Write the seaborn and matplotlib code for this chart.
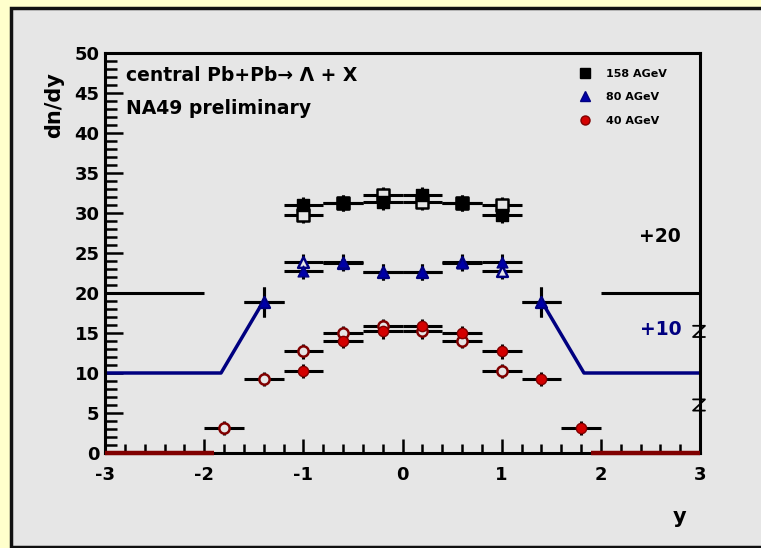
import numpy as np
import pandas as pd
import matplotlib
matplotlib.use("Agg")
import matplotlib.pyplot as plt
from matplotlib.patches import Rectangle
from matplotlib.lines import Line2D
from matplotlib.ticker import MultipleLocator
import seaborn as sns

# ---------------- data (raw dn/dy, offsets added when plotting) ----------------
x158 = [-1.0, -0.6, -0.2, 0.2, 0.6, 1.0]
y158 = [11.0, 11.3, 11.4, 12.3, 11.3, 9.8]
e158 = [1.0, 1.0, 1.0, 1.0, 1.0, 1.0]
off158 = 20

x80 = [-1.4, -1.0, -0.6, -0.2, 0.2, 0.6, 1.0, 1.4]
y80 = [8.9, 12.7, 13.9, 12.6, 12.6, 13.8, 13.9, 8.9]
e80 = [1.9, 1.0, 1.0, 1.0, 1.0, 1.0, 1.0, 1.9]
off80 = 10

x40 = [-1.0, -0.6, -0.2, 0.2, 0.6, 1.0, 1.4, 1.8]
y40 = [10.25, 14.0, 15.2, 15.9, 15.0, 12.7, 9.25, 3.1]
e40 = [0.9, 0.9, 0.9, 0.9, 0.9, 0.9, 0.9, 0.9]
off40 = 0

half_bin = 0.2

# baseline (offset-level) guide lines
base158_left_x, base158_right_x = [-3.0, -2.0], [2.0, 3.0]
base80_left_x, base80_left_y = [-3.0, -1.83, -1.42], [10.0, 10.0, 18.6]
base80_right_x, base80_right_y = [1.42, 1.83, 3.0], [18.6, 10.0, 10.0]
base40_left_x, base40_right_x = [-3.0, -1.9], [1.9, 3.0]

labels = ["158 AGeV", "80 AGeV", "40 AGeV"]
offset_labels = ["+20", "+10"]
break_marks_y = [15.2, 6.0]

# ---------------- style ----------------
sns.set_style("white")
plt.rcParams['font.family'] = ['DejaVu Sans']
plt.rcParams.update({"text.color": "black", "xtick.color": "black",
                     "ytick.color": "black", "axes.labelcolor": "black",
                     "axes.unicode_minus": False})

BLACK = "#000000"
BLUE = "#0000A8"
BLUE_DARK = "#000080"
RED = "#D40000"
RED_DARK = "#800000"
PANEL = "#E6E6E6"

W, H = 761, 548
fig = plt.figure(figsize=(W / 100, H / 100), dpi=100)
fig.patch.set_facecolor("#FFFFCC")
bg = Rectangle((11 / W, 1 / H), 1.0, (H - 8 - 1) / H, transform=fig.transFigure,
               facecolor=PANEL, edgecolor="#111111", linewidth=2.5, zorder=-10)
fig.patches.append(bg)

ax = fig.add_axes([105 / W, (H - 453) / H, 595 / W, 400 / H])
ax.set_zorder(1)
ax.set_facecolor(PANEL)
ax.set_xlim(-3, 3)
ax.set_ylim(0, 50)

def lines(xs, ys, color, lw, z=2):
    sns.lineplot(x=xs, y=ys, ax=ax, color=color, linewidth=lw, sort=False, zorder=z,
                 solid_capstyle="butt", clip_on=False)

lines(base158_left_x, [off158] * 2, BLACK, 2.2)
lines(base158_right_x, [off158] * 2, BLACK, 2.2)
lines(base80_left_x, base80_left_y, BLUE_DARK, 2.5)
lines(base80_right_x, base80_right_y, BLUE_DARK, 2.5)
lines(base40_left_x, [off40] * 2, RED_DARK, 3.2, z=6)
lines(base40_right_x, [off40] * 2, RED_DARK, 3.2, z=6)

series = [
    (x158, y158, e158, off158, "s", 80, BLACK, BLACK, BLACK),
    (x80, y80, e80, off80, "^", 60, BLUE, BLUE_DARK, BLUE_DARK),
    (x40, y40, e40, off40, "o", 55, RED, RED_DARK, RED_DARK),
]

for xs, ys, es, off, mk, s, fc, ec, oc in series:
    xs = np.array(xs)
    ys = np.array(ys) + off
    es = np.array(es)
    for xx in (xs, -xs):
        ax.errorbar(xx, ys, xerr=half_bin, yerr=es, fmt="none", ecolor="black",
                    elinewidth=2.2, capsize=0, zorder=3)
    df_open = pd.DataFrame({"x": -xs, "y": ys})
    sns.scatterplot(data=df_open, x="x", y="y", ax=ax, marker=mk, s=s, color=PANEL,
                    edgecolor=oc, linewidth=1.8, zorder=4, legend=False)
    df = pd.DataFrame({"x": xs, "y": ys})
    sns.scatterplot(data=df, x="x", y="y", ax=ax, marker=mk, s=s, color=fc,
                    edgecolor=ec, linewidth=1.0, zorder=5, legend=False)

for sp in ax.spines.values():
    sp.set_linewidth(2.2)
    sp.set_color("black")
ax.xaxis.set_major_locator(MultipleLocator(1))
ax.xaxis.set_minor_locator(MultipleLocator(0.2))
ax.yaxis.set_major_locator(MultipleLocator(5))
ax.yaxis.set_minor_locator(MultipleLocator(1))
ax.tick_params(axis="y", which="major", direction="in", length=13, width=1.8,
               labelsize=13, pad=4, left=True, right=False)
ax.tick_params(axis="y", which="minor", direction="in", length=8.5, width=1.8, left=True)
ax.tick_params(axis="x", which="major", direction="in", length=10, width=1.8,
               labelsize=13, pad=9, bottom=True, top=False)
ax.tick_params(axis="x", which="minor", direction="in", length=6.5, width=1.8, bottom=True)
for lab in ax.get_xticklabels() + ax.get_yticklabels():
    lab.set_fontweight("bold")

ax.set_xlabel("")
ax.set_ylabel("")
ax.text(-0.085, 0.87, "dn/dy", transform=ax.transAxes, rotation=90, ha="center",
        va="center", fontsize=15, fontweight="bold")
ax.text(0.966, -0.16, "y", transform=ax.transAxes, ha="center", va="center",
        fontsize=15, fontweight="bold")

ax.text(0.035, 0.944, "central Pb+Pb\u2192 \u039b + X", transform=ax.transAxes,
        ha="left", va="center", fontsize=13.5, fontweight="bold")
ax.text(0.035, 0.862, "NA49 preliminary", transform=ax.transAxes,
        ha="left", va="center", fontsize=13.5, fontweight="bold")

ax.text(2.6, 27.0, offset_labels[0], ha="center", va="center", fontsize=13.5,
        fontweight="bold", color=BLACK)
ax.text(2.6, 15.4, offset_labels[1], ha="center", va="center", fontsize=13.5,
        fontweight="bold", color=BLUE_DARK)

for yb in break_marks_y:
    ax.plot([2.93, 3.05, 2.93, 3.05], [yb + 0.7, yb + 0.7, yb - 0.7, yb - 0.7],
            color="black", lw=1.3, clip_on=False, zorder=6)

handles = [
    Line2D([], [], ls="none", marker="s", ms=7.5, color=BLACK),
    Line2D([], [], ls="none", marker="^", ms=7.5, color=BLUE, mec=BLUE_DARK),
    Line2D([], [], ls="none", marker="o", ms=6.5, color=RED, mec=RED_DARK),
]
ax.legend(handles, labels, loc="upper left", bbox_to_anchor=(0.78, 0.985),
          frameon=False, handlelength=1.0, handletextpad=1.4,
          labelspacing=1.2, prop={"weight": "bold", "size": 8})

fig.savefig("out.png", dpi=100, facecolor=fig.get_facecolor())
